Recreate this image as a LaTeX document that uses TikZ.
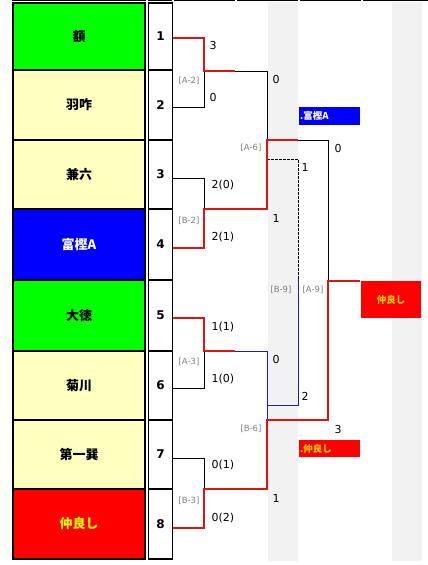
\documentclass[tikz,border=0pt]{standalone}
\usepackage{fontspec}
\setmainfont{DejaVu Sans}
\newfontfamily\cjk{Noto Sans CJK JP}
\definecolor{tgreen}{RGB}{0,255,0}
\definecolor{tyellow}{RGB}{255,255,192}
\definecolor{tblue}{RGB}{0,0,255}
\definecolor{tred}{RGB}{255,0,0}
\definecolor{lred}{RGB}{222,20,20}
\definecolor{lblue}{RGB}{30,30,160}
\definecolor{gcol}{RGB}{242,242,242}
\definecolor{lblc}{RGB}{128,128,128}
\definecolor{goldc}{RGB}{255,204,0}
\definecolor{yelc}{RGB}{255,255,0}
\begin{document}
\begin{tikzpicture}[x=1pt,y=-1pt,
  teambox/.style={draw=black, line width=2pt, minimum width=132pt, inner sep=0pt,
    font=\cjk\bfseries\fontsize{13}{13}\selectfont},
  numbox/.style={draw=black, line width=1.2pt, fill=white, minimum width=23.8pt, inner sep=0pt,
    font=\bfseries\fontsize{12}{12}\selectfont},
  blk/.style={black, line width=0.9pt},
  redl/.style={lred, line width=2pt},
  bluel/.style={lblue, line width=0.9pt},
  dsh/.style={black, line width=0.8pt, dash pattern=on 2.5pt off 1.5pt},
  lbl/.style={text=lblc, inner sep=0pt, font=\fontsize{8.5}{8.5}\selectfont},
  score/.style={text=black, inner sep=0pt, font=\fontsize{11}{11}\selectfont},
  banner/.style={minimum width=61pt, minimum height=18pt, inner sep=1pt, text width=59pt,
    align=left, font=\cjk\bfseries\fontsize{9.5}{9.5}\selectfont},
  topline/.style={black, line width=1.2pt}
]
\useasboundingbox (0,0) rectangle (428,565);
% gray columns
\fill[gcol] (268,2) rectangle (298,561);
\fill[gcol] (392,2) rectangle (422,561);
% top line segments
\draw[topline] (12,0.6) -- (146,0.6);
\draw[topline] (148,0.6) -- (172,0.6);
\draw[topline] (174,0.6) -- (235,0.6);
\draw[topline] (237,0.6) -- (298,0.6);
\draw[topline] (300,0.6) -- (361,0.6);
\draw[topline] (363,0.6) -- (428,0.6);

% team boxes
\node[teambox, fill=tgreen, minimum height=67pt] (t1) at (79,36.5) {額};
\node[teambox, fill=tyellow, minimum height=70pt] (t2) at (79,105) {羽咋};
\node[teambox, fill=tyellow, minimum height=69pt] (t3) at (79,174.5) {兼六};
\node[teambox, fill=tblue, text=white, minimum height=71pt] (t4) at (79,244.5) {富樫A};
\node[teambox, fill=tgreen, minimum height=71pt] (t5) at (79,315.5) {大徳};
\node[teambox, fill=tyellow, minimum height=69pt] (t6) at (79,385.5) {菊川};
\node[teambox, fill=tyellow, minimum height=69pt] (t7) at (79,454.5) {第一巽};
\node[teambox, fill=tred, text=yelc, minimum height=70pt] (t8) at (79,524) {仲良し};

% number boxes
\node[numbox, minimum height=67pt] (n1) at (160.5,36.5) {1};
\node[numbox, minimum height=70pt] (n2) at (160.5,105) {2};
\node[numbox, minimum height=69pt] (n3) at (160.5,174.5) {3};
\node[numbox, minimum height=71pt] (n4) at (160.5,244.5) {4};
\node[numbox, minimum height=71pt] (n5) at (160.5,315.5) {5};
\node[numbox, minimum height=69pt] (n6) at (160.5,385.5) {6};
\node[numbox, minimum height=69pt] (n7) at (160.5,454.5) {7};
\node[numbox, minimum height=70pt] (n8) at (160.5,524) {8};

% bracket coordinates
\coordinate (p1) at (173,38);
\coordinate (p2) at (173,107);
\coordinate (p3) at (173,178);
\coordinate (p4) at (173,248);
\coordinate (p5) at (173,318);
\coordinate (p6) at (173,388);
\coordinate (p7) at (173,458);
\coordinate (p8) at (173,528);

\coordinate (a2t) at (204,38);
\coordinate (a2m) at (204,71);
\coordinate (a2b) at (204,107);
\coordinate (a2o) at (235,71);
\coordinate (a6u) at (267,71);

\coordinate (b2t) at (204,178);
\coordinate (b2m) at (204,209);
\coordinate (b2b) at (204,248);
\coordinate (a6l) at (267,209);

\coordinate (a6m) at (267,140);
\coordinate (a6o) at (298,140);
\coordinate (a9u) at (328,140);
\coordinate (a6d) at (267,159);
\coordinate (b9u) at (298,159);
\coordinate (b9m) at (298,279);
\coordinate (a9m) at (328,281);
\coordinate (a9o) at (360,281);

\coordinate (a3t) at (204,318);
\coordinate (a3m) at (204,351);
\coordinate (a3b) at (204,388);
\coordinate (a3o) at (235,351);
\coordinate (b6u) at (267,351);

\coordinate (b3t) at (204,458);
\coordinate (b3m) at (204,489);
\coordinate (b3b) at (204,528);
\coordinate (b6l) at (267,489);

\coordinate (b6m) at (267,420);
\coordinate (b6d) at (267,405);
\coordinate (b9l) at (298,405);
\coordinate (a9l) at (328,420);

% black lines
\draw[blk] (p2) -- (a2b) -- (a2m);
\draw[blk] (a2o) -- (a6u) -- (a6m);
\draw[blk] (p3) -- (b2t) -- (b2m);
\draw[blk] (a6o) -- (a9u) -- (a9m);
\draw[blk] (p6) -- (a3b) -- (a3m);
\draw[blk] (p7) -- (b3t) -- (b3m);
\draw[dsh] (a6d) -- (b9u) -- (b9m);
% blue lines
\draw[bluel] (a3o) -- (b6u) -- (b6m);
\draw[bluel] (b6d) -- (b9l) -- (b9m);
% red lines
\draw[redl] (p1) -- (a2t) -- (a2m) -- (a2o);
\draw[redl] (p4) -- (b2b) -- (b2m) -- (a6l) -- (a6m) -- (a6o);
\draw[redl] (p5) -- (a3t) -- (a3m) -- (a3o);
\draw[redl] (p8) -- (b3b) -- (b3m) -- (b6l) -- (b6m) -- (a9l) -- (a9m) -- (a9o);

% match labels
\node[lbl] (la2) at (189,81) {[A-2]};
\node[lbl] (lb2) at (189,221) {[B-2]};
\node[lbl] (la3) at (189,362) {[A-3]};
\node[lbl] (lb3) at (189,501) {[B-3]};
\node[lbl] (la6) at (251,148) {[A-6]};
\node[lbl] (lb6) at (251,429) {[B-6]};
\node[lbl] (lb9) at (281,290) {[B-9]};
\node[lbl] (la9) at (313,290) {[A-9]};

% scores
\node[score] (s1) at (213,45) {3};
\node[score] (s2) at (213,97) {0};
\node[score] (s3) at (223,185) {2(0)};
\node[score] (s4) at (223,237) {2(1)};
\node[score] (s5) at (223,327) {1(1)};
\node[score] (s6) at (223,379) {1(0)};
\node[score] (s7) at (223,465) {0(1)};
\node[score] (s8) at (223,518) {0(2)};
\node[score] (s9) at (276,79) {0};
\node[score] (s10) at (276,218) {1};
\node[score] (s11) at (276,359) {0};
\node[score] (s12) at (276,498) {1};
\node[score] (s13) at (305,167) {1};
\node[score] (s14) at (305,396) {2};
\node[score] (s15) at (338,148) {0};
\node[score] (s16) at (338,429) {3};

% banners and winner
\node[banner, fill=tblue, text=white] (bn1) at (329.5,116) {.富樫A};
\node[banner, fill=tred, text=goldc, minimum height=17pt] (bn2) at (329.5,448.5) {.仲良し};
\node[fill=tred, text=goldc, minimum width=60pt, minimum height=37pt, inner sep=0pt,
  font=\cjk\bfseries\fontsize{9.5}{9.5}\selectfont] (win) at (391,299.5) {仲良し};
\end{tikzpicture}
\end{document}
